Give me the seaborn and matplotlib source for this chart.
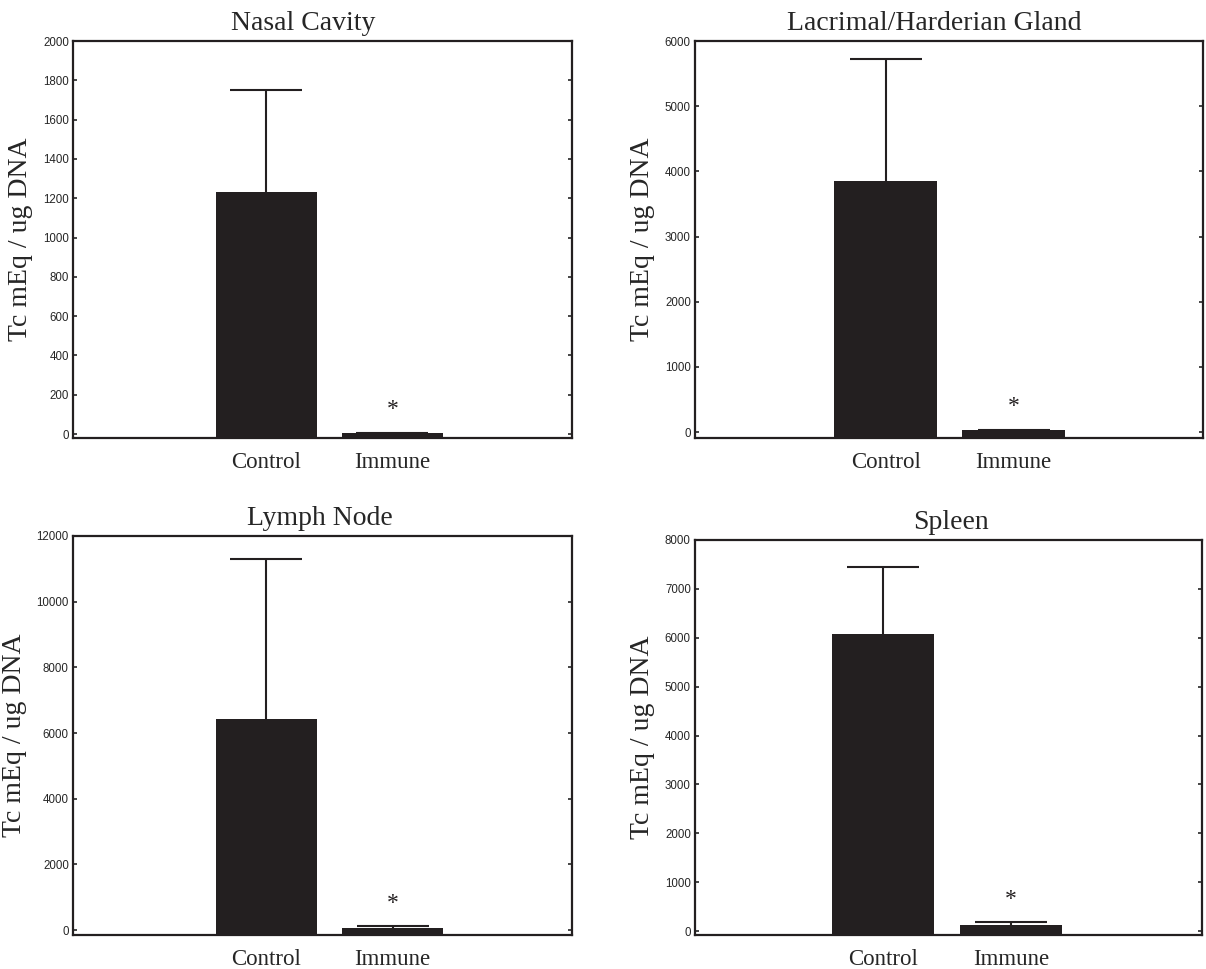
import pandas as pd
import seaborn as sns
import matplotlib.pyplot as plt

# values (mean and upper error)
groups = ["Control", "Immune"]
titles = ["Nasal Cavity", "Lacrimal/Harderian Gland", "Lymph Node", "Spleen"]

nasal_mean = [1230, 5]
nasal_err = [520, 2]
lacrimal_mean = [3850, 28]
lacrimal_err = [1880, 5]
lymph_mean = [6430, 75]
lymph_err = [4870, 40]
spleen_mean = [6070, 125]
spleen_err = [1370, 60]

ymax = [2000, 6000, 12000, 8000]
ystep = [200, 1000, 2000, 1000]
ymin = [-20, -90, -150, -80]

means = [nasal_mean, lacrimal_mean, lymph_mean, spleen_mean]
errs = [nasal_err, lacrimal_err, lymph_err, spleen_err]

sns.set_style("white")
plt.rcParams["font.family"] = ["Liberation Serif", "DejaVu Serif"]

bar_color = "#231f20"

fig = plt.figure(figsize=(12.06, 9.69), dpi=100)
W, H = 1206, 969
# axes boxes in pixels: left, right, top, bottom
boxes = [(73, 572, 41, 438), (695, 1203, 41, 438),
         (73, 572, 536, 935), (695, 1202, 540, 935)]
title_x = [0.462, 0.47, 0.495, 0.505]
xlims = [(-1.535, 2.425), (-1.49, 2.48), (-1.53, 2.42), (-1.478, 2.5)]

for i in range(4):
    l, r, t, b = boxes[i]
    ax = fig.add_axes([l / W, 1 - b / H, (r - l) / W, (b - t) / H])
    # bars start at the bottom of the axis, as in the original software
    df = pd.DataFrame({"group": groups,
                       "height": [m - ymin[i] for m in means[i]]})
    sns.barplot(data=df, x="group", y="height", color=bar_color, width=0.8,
                saturation=1, errorbar=None, ax=ax, zorder=2,
                bottom=ymin[i], linewidth=0)
    xs = list(range(len(groups)))
    eb = ax.errorbar(xs, means[i], yerr=[[0] * len(groups), errs[i]],
                     fmt="none", ecolor=bar_color, elinewidth=1.5,
                     capsize=26, capthick=1.5, zorder=1)
    eb[1][0].set_visible(False)  # hide the lower caps
    top_imm = means[i][1] + errs[i][1]
    ax.annotate("*", xy=(1, top_imm), xytext=(0, 9), textcoords="offset points",
                ha="center", va="bottom", fontsize=17, color=bar_color)

    ax.set_ylim(ymin[i], ymax[i])
    ax.set_xlim(*xlims[i])
    ax.set_yticks(range(0, ymax[i] + 1, ystep[i]))
    ax.set_xlabel("")
    ax.set_ylabel("Tc mEq / ug DNA", fontsize=20, labelpad=7)
    ax.set_title(titles[i], fontsize=20, x=title_x[i], pad=8)

    ax.tick_params(axis="y", direction="in", length=3, width=1.2,
                   left=True, right=True, labelsize=8.3, pad=3)
    ax.tick_params(axis="x", length=0, labelsize=16.5, pad=10)
    for lab in ax.get_yticklabels():
        lab.set_fontfamily("Liberation Sans")
    for sp in ax.spines.values():
        sp.set_visible(True)
        sp.set_color(bar_color)
        sp.set_linewidth(1.6)

fig.savefig("out.png", dpi=100)
